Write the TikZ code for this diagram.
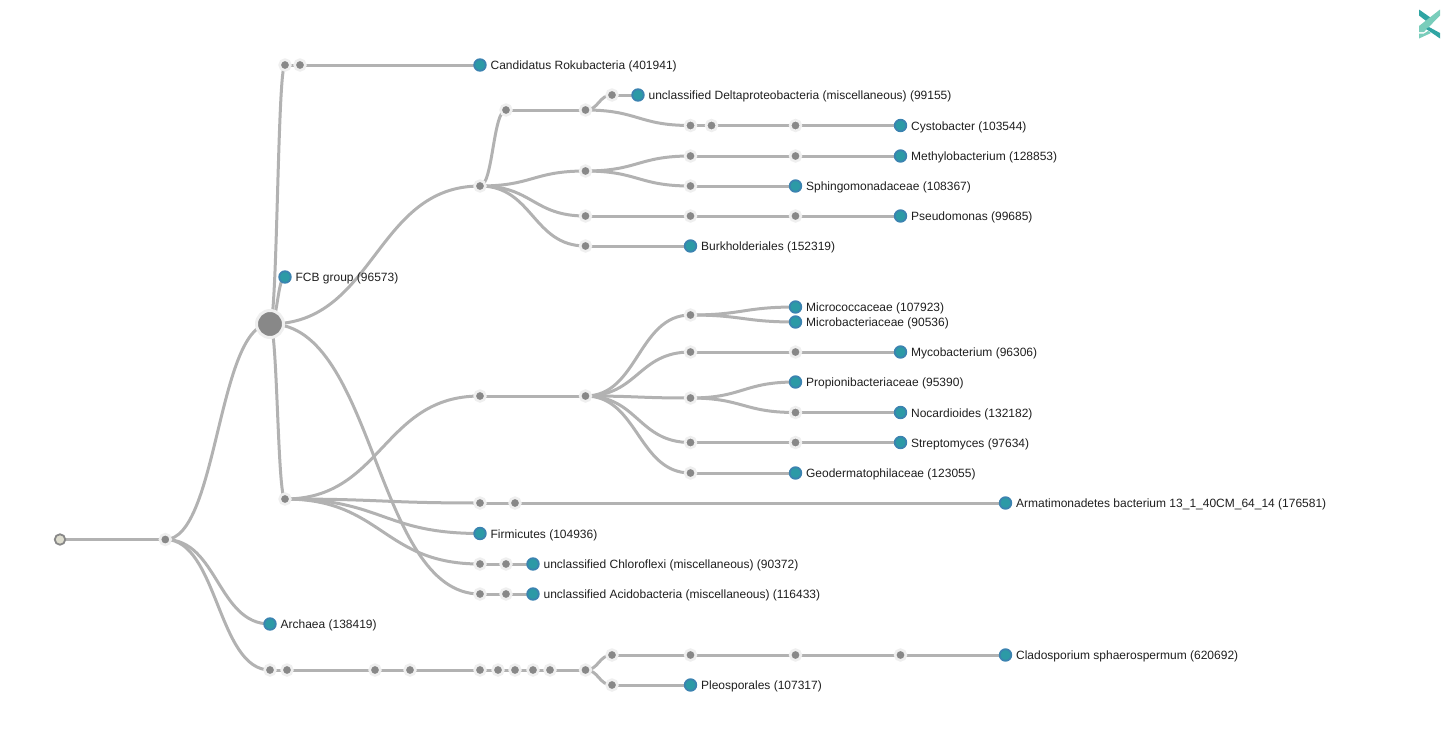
\documentclass[tikz,border=0pt]{standalone}
\usepackage{fontspec}
\setmainfont{Liberation Sans}
\usetikzlibrary{calc,backgrounds}
\definecolor{linkc}{HTML}{B2B2B2}
\definecolor{corec}{HTML}{888888}
\definecolor{haloc}{HTML}{EFEFEF}
\definecolor{leafc}{HTML}{3B83B0}
\definecolor{leaff}{HTML}{2C9AA6}
\definecolor{logod}{HTML}{2FA5A3}
\definecolor{logol}{HTML}{79CDBB}
\definecolor{rootf}{HTML}{DEDDCF}
\tikzset{x=1pt,y=-1pt,
 inner/.style={circle,fill=corec,draw=haloc,line width=2.6pt,outer sep=0pt,inner sep=0pt,minimum size=10.8pt},
 bignode/.style={circle,fill=corec,draw=haloc,line width=3pt,outer sep=0pt,inner sep=0pt,minimum size=27pt},
 rootnode/.style={circle,fill=rootf,draw=corec,line width=1.8pt,outer sep=0pt,inner sep=0pt,minimum size=10.5pt},
 leaf/.style={circle,fill=leaff,draw=leafc,line width=1.8pt,outer sep=0pt,inner sep=0pt,minimum size=11.6pt,
   label={[lbl]right:#1}},
 lbl/.style={font=\fontsize{12}{14}\selectfont,text=black!88,inner sep=0pt,label distance=4.6pt,yshift=-1.4pt},
 link/.style={draw=linkc,line width=3pt}}
\newcommand{\lnk}[2]{\draw[link] let \p1=(#1.center),\p2=(#2.center),\n1={(\x1+\x2)/2} in (\p1) .. controls (\n1,\y1) and (\n1,\y2) .. (\p2);}
\newcommand{\inn}[3]{\node[inner] (#1) at (#2,#3) {};}
\newcommand{\lf}[4]{\node[leaf={#4}] (#1) at (#2,#3) {};}
\begin{document}
\begin{tikzpicture}
\useasboundingbox (0,0) rectangle (1451,750);
% logo
\fill[logod] (1419,9.5)--(1434,20)--(1430,24)--(1419,15.5)--cycle;
\fill[logol] (1440,9.5)--(1440,15.5)--(1424,32)--(1419,32)--(1419,26)--cycle;
\fill[logod] (1429,27)--(1440,33)--(1440,38.5)--(1432,33)--(1426,29)--cycle;
\fill[logol] (1419,33.5)--(1424,33.5)--(1428,31)--(1431,33)--(1419,38.5)--cycle;
\node[rootnode] (root) at (60,539.5) {};
\inn{n1}{165.3}{539.5}
\node[bignode] (big) at (270,324) {};
\lf{arch}{270}{624}{Archaea (138419)}
\inn{b1}{270}{670}
\inn{c1}{285}{65}
\inn{c2}{300}{65}
\lf{cand}{480}{65}{Candidatus Rokubacteria (401941)}
\lf{fcb}{285}{277}{FCB group (96573)}
\inn{g1}{285}{499}
\inn{a1}{480}{186}
\inn{ac1}{480}{594}
\inn{ac2}{506}{594}
\lf{acid}{533}{594}{unclassified Acidobacteria (miscellaneous) (116433)}
\inn{d1}{506}{110}
\inn{d2}{585.5}{171}
\inn{d3}{585.5}{216}
\inn{d4}{585.5}{246}
\inn{e1}{585.5}{110}
\inn{f1}{612}{95}
\lf{delta}{638}{95}{unclassified Deltaproteobacteria (miscellaneous) (99155)}
\inn{f2}{690.5}{125.5}
\inn{f3}{711.5}{125.5}
\inn{f4}{795.5}{125.5}
\lf{cysto}{900.5}{125.5}{Cystobacter (103544)}
\inn{m1}{690.5}{156}
\inn{m2}{795.5}{156}
\lf{methyl}{900.5}{156}{Methylobacterium (128853)}
\inn{s1}{690.5}{186}
\lf{sphing}{795.5}{186}{Sphingomonadaceae (108367)}
\inn{p1}{690.5}{216}
\inn{p2}{795.5}{216}
\lf{pseudo}{900.5}{216}{Pseudomonas (99685)}
\lf{burk}{690.5}{246}{Burkholderiales (152319)}
\inn{h1}{480}{396}
\inn{h2}{585.5}{396}
\inn{i1}{690.5}{315}
\lf{micro}{795.5}{307}{Micrococcaceae (107923)}
\lf{microb}{795.5}{322}{Microbacteriaceae (90536)}
\inn{i2}{690.5}{352}
\inn{i2b}{795.5}{352}
\lf{myco}{900.5}{352}{Mycobacterium (96306)}
\inn{i3}{690.5}{398}
\lf{prop}{795.5}{382}{Propionibacteriaceae (95390)}
\inn{i3b}{795.5}{412.5}
\lf{nocar}{900.5}{412.5}{Nocardioides (132182)}
\inn{i4}{690.5}{442.5}
\inn{i4b}{795.5}{442.5}
\lf{strep}{900.5}{442.5}{Streptomyces (97634)}
\inn{i5}{690.5}{473}
\lf{geo}{795.5}{473}{Geodermatophilaceae (123055)}
\inn{j1}{480}{503}
\inn{j2}{515}{503}
\lf{arma}{1005.5}{503}{Armatimonadetes bacterium 13\_1\_40CM\_64\_14 (176581)}
\lf{firm}{480}{533.5}{Firmicutes (104936)}
\inn{k1}{480}{564}
\inn{k2}{506}{564}
\lf{chlo}{533}{564}{unclassified Chloroflexi (miscellaneous) (90372)}
\inn{b2}{287}{670}
\inn{b3}{375}{670}
\inn{b4}{410}{670}
\inn{b5}{480}{670}
\inn{b6}{498}{670}
\inn{b7}{515}{670}
\inn{b8}{533}{670}
\inn{b9}{550}{670}
\inn{b10}{585.5}{670}
\inn{q1}{612}{655}
\inn{q2}{690.5}{655}
\inn{q3}{795.5}{655}
\inn{q4}{900.5}{655}
\lf{clado}{1005.5}{655}{Cladosporium sphaerospermum (620692)}
\inn{r1}{612}{685}
\lf{pleo}{690.5}{685}{Pleosporales (107317)}
\begin{pgfonlayer}{background}
\foreach \a/\b in {root/n1,n1/big,n1/arch,n1/b1,big/c1,c1/c2,c2/cand,big/fcb,big/g1,big/a1,big/ac1,ac1/ac2,ac2/acid,
 a1/d1,a1/d2,a1/d3,a1/d4,d1/e1,e1/f1,f1/delta,e1/f2,f2/f3,f3/f4,f4/cysto,d2/m1,m1/m2,m2/methyl,d2/s1,s1/sphing,d3/p1,p1/p2,p2/pseudo,d4/burk,
 g1/h1,h1/h2,h2/i1,i1/micro,i1/microb,h2/i2,i2/i2b,i2b/myco,h2/i3,i3/prop,i3/i3b,i3b/nocar,h2/i4,i4/i4b,i4b/strep,h2/i5,i5/geo,
 g1/j1,j1/j2,j2/arma,g1/firm,g1/k1,k1/k2,k2/chlo,
 b1/b2,b2/b3,b3/b4,b4/b5,b5/b6,b6/b7,b7/b8,b8/b9,b9/b10,b10/q1,q1/q2,q2/q3,q3/q4,q4/clado,b10/r1,r1/pleo}{\lnk{\a}{\b}}
\end{pgfonlayer}
\end{tikzpicture}
\end{document}
